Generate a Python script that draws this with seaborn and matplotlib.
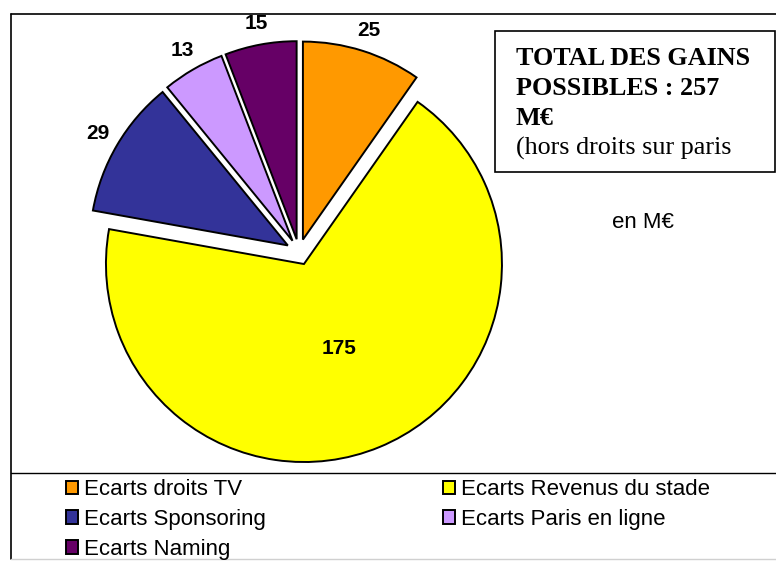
import matplotlib
matplotlib.use("Agg")
import matplotlib.pyplot as plt
import numpy as np
import seaborn as sns
from matplotlib.patches import Rectangle

# data (M€)
categories = ["Ecarts droits TV", "Ecarts Revenus du stade", "Ecarts Sponsoring",
              "Ecarts Paris en ligne", "Ecarts Naming"]
values = [25, 175, 29, 13, 15]
colors = ["#FF9900", "#FFFF00", "#333399", "#CC99FF", "#660066"]
total_lines = ["TOTAL DES GAINS", "POSSIBLES : 257", "M€"]
note = "(hors droits sur paris"
unit = "en M€"

sns.set_style("white")
plt.rcParams["font.family"] = ["Liberation Sans", "DejaVu Sans"]
plt.rcParams["text.color"] = "black"

W, H = 776, 561
fig = plt.figure(figsize=(W / 100, H / 100), dpi=100)
ax = fig.add_axes([0, 0, 1, 1])


def Y(y):
    # pixel row -> data y
    return H - y


R = 198
wedges, _ = ax.pie(values, colors=sns.color_palette(colors), startangle=90,
                   counterclock=False, explode=[13] * len(values), radius=R,
                   center=(299, Y(252)),
                   wedgeprops=dict(edgecolor="black", linewidth=1.4))

# value labels
for w, v in zip(wedges, values):
    mid = np.deg2rad((w.theta1 + w.theta2) / 2)
    d = 0.46 if v == max(values) else 1.11
    cx, cy = w.center
    ax.text(cx + d * w.r * np.cos(mid), cy + d * w.r * np.sin(mid), str(v),
            ha="center", va="center", fontsize=15, fontweight="bold")

# total box
ax.add_patch(Rectangle((495, Y(172)), 280, 141, fill=False,
                       edgecolor="black", linewidth=1.2))
for i, line in enumerate(total_lines):
    ax.text(516, Y(65 + 30 * i), line, family=["Liberation Serif"],
            fontsize=18.8, fontweight="bold", va="baseline")
ax.text(516, Y(155), note, family=["Liberation Serif"], fontsize=18.8,
        va="baseline")
ax.text(643, Y(222), unit, fontsize=16, ha="center", va="center")

# frame lines
ax.plot([11, W], [Y(14), Y(14)], color="black", lw=1.2)
ax.plot([11, 11], [Y(14), Y(559)], color="black", lw=1.2)
ax.plot([11, W], [Y(473), Y(473)], color="black", lw=1)
ax.plot([11, W], [Y(559), Y(559)], color="#d0d0d0", lw=1)

# legend, two columns
fs = 16
px = fs * 100 / 72
leg_kw = dict(loc="upper left", frameon=False, fontsize=fs,
              handlelength=12 / px, handleheight=12 / px,
              handletextpad=6 / px, borderpad=0, borderaxespad=0,
              labelspacing=0.4, bbox_transform=ax.transData)
col1 = [0, 2, 4]
col2 = [1, 3]
leg1 = ax.legend([wedges[i] for i in col1], [categories[i] for i in col1],
                 bbox_to_anchor=(66, Y(479)), **leg_kw)
ax.add_artist(leg1)
ax.legend([wedges[i] for i in col2], [categories[i] for i in col2],
          bbox_to_anchor=(443, Y(479)), **leg_kw)

ax.set_xlim(0, W)
ax.set_ylim(0, H)
ax.axis("off")

fig.savefig("out.png", dpi=100)
